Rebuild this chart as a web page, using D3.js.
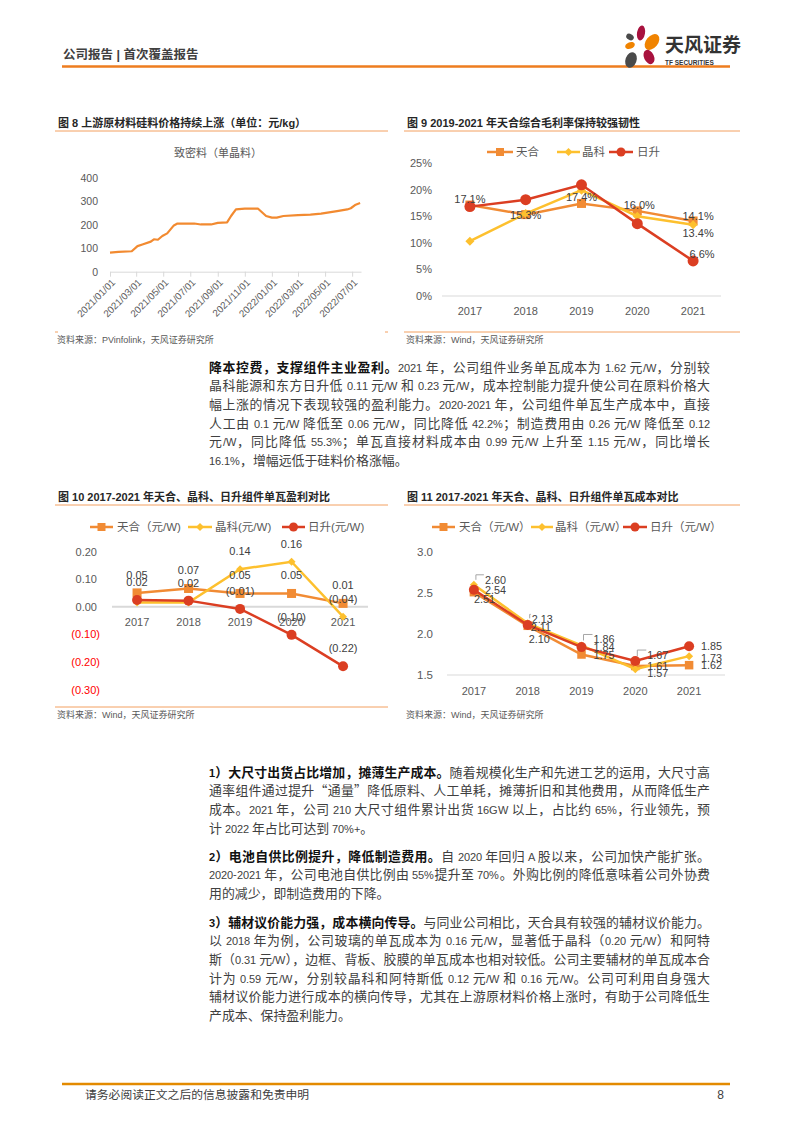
<!DOCTYPE html>
<html><head><meta charset="utf-8">
<script src="https://cdn.jsdelivr.net/npm/d3@7"></script>
<style>
@font-face{font-family:"LatN";src:local("Liberation Sans"),local("LiberationSans");size-adjust:88%;font-weight:400;unicode-range:U+0000-00FF;}
@font-face{font-family:"LatN";src:local("Liberation Sans Bold"),local("LiberationSans-Bold");size-adjust:88%;font-weight:700;unicode-range:U+0000-00FF;}
body{margin:0;background:#fff;}
#page{position:relative;width:793px;height:1122px;overflow:hidden;background:#fff;}
svg{position:absolute;left:0;top:0;}
.para{position:absolute;left:209px;width:501px;font-family:"LatN","Noto Sans CJK SC",sans-serif;font-size:12.9px;color:#404040;}
.line{height:18.7px;line-height:18.7px;text-align:justify;text-align-last:justify;}
.line.last{text-align-last:left;}
.para b{color:#111;font-weight:700;}
</style></head>
<body><div id="page"><svg id="svg" width="793" height="1122"></svg>
<div class="para" style="top:358.6px">
<div class="line"><b>降本控费，支撑组件主业盈利。</b>2021 年，公司组件业务单瓦成本为 1.62 元/W，分别较</div>
<div class="line">晶科能源和东方日升低 0.11 元/W 和 0.23 元/W，成本控制能力提升使公司在原料价格大</div>
<div class="line">幅上涨的情况下表现较强的盈利能力。2020-2021 年，公司组件单瓦生产成本中，直接</div>
<div class="line">人工由 0.1 元/W 降低至 0.06 元/W，同比降低 42.2%；制造费用由 0.26 元/W 降低至 0.12</div>
<div class="line">元/W，同比降低 55.3%；单瓦直接材料成本由 0.99 元/W 上升至 1.15 元/W，同比增长</div>
<div class="line last">16.1%，增幅远低于硅料价格涨幅。</div>
</div>
<div class="para" style="top:763.6px">
<div class="line"><b>1）大尺寸出货占比增加，摊薄生产成本。</b>随着规模化生产和先进工艺的运用，大尺寸高</div>
<div class="line">通率组件通过提升“通量”降低原料、人工单耗，摊薄折旧和其他费用，从而降低生产</div>
<div class="line">成本。2021 年，公司 210 大尺寸组件累计出货 16GW 以上，占比约 65%，行业领先，预</div>
<div class="line last">计 2022 年占比可达到 70%+。</div>
</div>
<div class="para" style="top:847.7px">
<div class="line"><b>2）电池自供比例提升，降低制造费用。</b>自 2020 年回归 A 股以来，公司加快产能扩张。</div>
<div class="line">2020-2021 年，公司电池自供比例由 55%提升至 70%。外购比例的降低意味着公司外协费</div>
<div class="line last">用的减少，即制造费用的下降。</div>
</div>
<div class="para" style="top:913.6px">
<div class="line"><b>3）辅材议价能力强，成本横向传导。</b>与同业公司相比，天合具有较强的辅材议价能力。</div>
<div class="line">以 2018 年为例，公司玻璃的单瓦成本为 0.16 元/W，显著低于晶科（0.20 元/W）和阿特</div>
<div class="line">斯（0.31 元/W），边框、背板、胶膜的单瓦成本也相对较低。公司主要辅材的单瓦成本合</div>
<div class="line">计为 0.59 元/W，分别较晶科和阿特斯低 0.12 元/W 和 0.16 元/W。公司可利用自身强大</div>
<div class="line">辅材议价能力进行成本的横向传导，尤其在上游原材料价格上涨时，有助于公司降低生</div>
<div class="line last">产成本、保持盈利能力。</div>
</div>
</div>
<script>
// ---------------- DATA ----------------
const years = ["2017", "2018", "2019", "2020", "2021"];

// Fig 8: 致密料（单晶料）price, 元/kg
const siDates = ["2021-01-01","2021-01-20","2021-02-19","2021-03-04","2021-03-15","2021-04-03","2021-04-10","2021-04-19","2021-04-29","2021-05-10","2021-05-25","2021-06-02","2021-07-10","2021-07-25","2021-08-17","2021-09-01","2021-09-22","2021-10-01","2021-10-12","2021-11-01","2021-12-01","2021-12-19","2022-01-01","2022-01-12","2022-01-27","2022-03-01","2022-03-29","2022-04-22","2022-05-28","2022-06-20","2022-06-28","2022-07-09","2022-07-19"];
const siPrice = [81,84,87,109,116,128,138,136,152,163,197,205,205,201,201,208,210,237,265,268,268,237,230,230,237,241,243,247,258,265,270,285,292];
const siTickLabels = ["2021/01/01","2021/03/01","2021/05/01","2021/07/01","2021/09/01","2021/11/01","2022/01/01","2022/03/01","2022/05/01","2022/07/01"];
const siYTicks = [0, 100, 200, 300, 400];

// Fig 9: gross margin
const gmTrina = [0.171, 0.153, 0.174, 0.160, 0.141];
const gmJinko = [0.103, 0.155, 0.199, 0.150, 0.134];
const gmRisen = [0.168, 0.181, 0.209, 0.136, 0.066];
const gmYTicks = [0, 0.05, 0.10, 0.15, 0.20, 0.25];

// Fig 10: profit per watt 元/W
const pfTrina = [0.05, 0.066, 0.048, 0.048, 0.012];
const pfJinko = [0.015, 0.015, 0.136, 0.163, -0.036];
const pfRisen = [0.024, 0.022, -0.008, -0.102, -0.216];
const pfYTicks = [0.2, 0.1, 0, -0.1, -0.2, -0.3];

// Fig 11: cost per watt 元/W
const ctTrina = [2.51, 2.10, 1.75, 1.61, 1.62];
const ctJinko = [2.60, 2.13, 1.86, 1.57, 1.73];
const ctRisen = [2.54, 2.11, 1.84, 1.67, 1.85];
const ctYTicks = [1.5, 2.0, 2.5, 3.0];

// ---------------- STYLE ----------------
const COL = {trina: "#F18B34", jinko: "#FDC02E", risen: "#DB3E22", si: "#F28A30", axis: "#d9d9d9", text: "#595959", label: "#404040"};
const FONT = "'Liberation Sans','Noto Sans CJK SC',sans-serif";
const svg = d3.select("#svg").style("font-family", FONT);

function txt(g, x, y, s, o = {}) {
  return g.append("text").attr("x", x).attr("y", y).attr("dominant-baseline", "central")
    .attr("text-anchor", o.anchor || "start").attr("font-size", o.size || 11)
    .attr("fill", o.fill || COL.text).attr("font-weight", o.weight || "normal").text(s);
}
function hline(g, x1, x2, y, color, w) {
  g.append("line").attr("x1", x1).attr("x2", x2).attr("y1", y).attr("y2", y).attr("stroke", color).attr("stroke-width", w);
}
function mark(g, type, x, y, s, color) {
  if (type === "square") g.append("rect").attr("x", x - s / 2).attr("y", y - s / 2).attr("width", s).attr("height", s).attr("fill", color);
  else if (type === "diamond") g.append("path").attr("d", `M${x},${y - s / 2}L${x + s / 2},${y}L${x},${y + s / 2}L${x - s / 2},${y}Z`).attr("fill", color);
  else g.append("circle").attr("cx", x).attr("cy", y).attr("r", s / 2).attr("fill", color);
}
function legend(g, items, y) {
  items.forEach(it => {
    hline(g, it.x0, it.x1, y, it.color, 2.5);
    mark(g, it.type, (it.x0 + it.x1) / 2, y, it.ms, it.color);
    txt(g, it.tx, y, it.name, {size: 11.5, fill: COL.text});
  });
}

// ---------------- HEADER / FOOTER ----------------
const hdr = svg.append("g");
txt(hdr, 63, 55, "公司报告 | 首次覆盖报告", {size: 12.5, weight: "bold", fill: "#404040"});
hline(hdr, 62, 730, 66.5, "#EE7D1F", 2.5);
const logo = hdr.append("g");
[[630,37,4,3,30,"#4a4a4a"],[641,33,4,7.5,10,"#A8123E"],[652,42,9,6,-50,"#F08300"],[630,45.5,5,3.3,-20,"#F08300"],[631,60,5.5,8,20,"#4a4a4a"],[649,57,5,7.5,-25,"#A8123E"]]
  .forEach(p => logo.append("ellipse").attr("cx", p[0]).attr("cy", p[1]).attr("rx", p[2]).attr("ry", p[3])
    .attr("transform", `rotate(${p[4]},${p[0]},${p[1]})`).attr("fill", p[5]));
txt(logo, 665, 45, "天风证券", {size: 19, weight: "bold", fill: "#333"});
txt(logo, 665, 62, "TF SECURITIES", {size: 6.5, weight: "bold", fill: "#333"});

const ftr = svg.append("g");
hline(ftr, 62, 730, 1084, "#E38A00", 2.5);
txt(ftr, 85, 1095, "请务必阅读正文之后的信息披露和免责申明", {size: 11.8, fill: "#404040"});
txt(ftr, 720.5, 1095, "8", {size: 12, fill: "#404040", anchor: "middle"});

// ---------------- chart frames ----------------
function frame(x0, x1, ty, title, ly, sy, src, bottomLine) {
  const g = svg.append("g");
  txt(g, x0 + 3, ty, title, {size: 11, weight: "bold", fill: "#262626"});
  hline(g, x0, x1, ly, "#F3A060", 1);
  if (bottomLine === "full") hline(g, x0, x1, sy - 8, "#F3A060", 1);
  else if (bottomLine === "ends") { hline(g, x0, x0 + 3, sy - 8, "#F3A060", 1); hline(g, x1 - 3, x1, sy - 8, "#F3A060", 1); }
  txt(g, x0 + 2, sy, src, {size: 9, fill: "#595959"});
}
frame(55, 388, 123, "图 8 上游原材料硅料价格持续上涨（单位：元/kg）", 131, 340, "资料来源：PVinfolink，天风证券研究所", "ends");
frame(404, 740, 123, "图 9 2019-2021 年天合综合毛利率保持较强韧性", 131, 340, "资料来源：Wind，天风证券研究所", "full");
frame(55, 388, 497, "图 10 2017-2021 年天合、晶科、日升组件单瓦盈利对比", 505, 715, "资料来源：Wind，天风证券研究所", "full");
frame(404, 740, 497, "图 11 2017-2021 年天合、晶科、日升组件单瓦成本对比", 505, 715, "资料来源：Wind，天风证券研究所", "none");

// ---------------- FIG 8 ----------------
(function () {
  const g = svg.append("g");
  const parse = d3.timeParse("%Y-%m-%d"), parseS = d3.timeParse("%Y/%m/%d");
  const x = d3.scaleTime().domain([parse("2021-01-01"), parse("2022-07-21")]).range([110, 361]);
  const y = d3.scaleLinear().domain([0, 400]).range([271.7, 177.7]);
  txt(g, 218, 153, "致密料（单晶料）", {size: 11, anchor: "middle", fill: COL.text});
  siYTicks.forEach(v => txt(g, 98, y(v), v, {size: 10.5, anchor: "end", fill: COL.text}));
  const ax = d3.axisBottom(x).tickValues(siTickLabels.map(parseS)).tickFormat((d, i) => siTickLabels[i]).tickSize(5).tickSizeOuter(0);
  const axg = g.append("g").attr("transform", `translate(0,${y(0)})`).call(ax);
  axg.select(".domain").attr("stroke", COL.axis);
  axg.selectAll(".tick line").attr("stroke", COL.axis);
  axg.selectAll(".tick text").attr("fill", COL.text).attr("font-size", 9.8).attr("font-family", FONT)
    .attr("text-anchor", "end").attr("x", 0).attr("y", 0).attr("dy", "0.35em")
    .attr("transform", "translate(3,9) rotate(-45)");
  const pts = siDates.map((d, i) => ({d: parse(d), v: siPrice[i]}));
  g.append("path").datum(pts).attr("fill", "none").attr("stroke", COL.si).attr("stroke-width", 2.2)
    .attr("stroke-linejoin", "round").attr("d", d3.line().x(p => x(p.d)).y(p => y(p.v)));
})();

// ---------------- FIG 9 ----------------
(function () {
  const g = svg.append("g");
  const x = d3.scalePoint().domain(years).range([442, 721]).padding(0.5);
  const y = d3.scaleLinear().domain([0, 0.25]).range([296, 163]);
  gmYTicks.forEach(v => txt(g, 432, y(v), d3.format(".0%")(v), {size: 11, anchor: "end"}));
  hline(g, 442, 721, y(0), COL.axis, 1);
  years.forEach(yr => txt(g, x(yr), 311, yr, {size: 11, anchor: "middle"}));
  const series = [
    {name: "天合", vals: gmTrina, color: COL.trina, type: "square", ms: 9, lx0: 487, lx1: 513, tx: 516},
    {name: "晶科", vals: gmJinko, color: COL.jinko, type: "diamond", ms: 9, lx0: 557, lx1: 580, tx: 582},
    {name: "日升", vals: gmRisen, color: COL.risen, type: "circle", ms: 11, lx0: 609, lx1: 633, tx: 637}
  ];
  legend(g, series.map(s => ({x0: s.lx0, x1: s.lx1, tx: s.tx, color: s.color, type: s.type, ms: s.type === "circle" ? 9 : 8, name: s.name})), 152);
  const line = d3.line().x((d, i) => x(years[i])).y(d => y(d));
  series.forEach(s => {
    g.append("path").datum(s.vals).attr("fill", "none").attr("stroke", s.color).attr("stroke-width", 2.5).attr("d", line);
    s.vals.forEach((v, i) => mark(g, s.type, x(years[i]), y(v), s.ms, s.color));
  });
  const labs = [[0,0,0,-6],[0,1,0,0],[0,2,0,-6],[0,3,2,-6],[0,4,5,-5],[1,4,5,8],[2,4,9,-7]];
  labs.forEach(([si, i, dx, dy]) => {
    const v = series[si].vals[i];
    txt(g, x(years[i]) + dx, y(v) + dy, d3.format(".1%")(v), {size: 11, anchor: "middle", fill: COL.label});
  });
})();

// ---------------- FIG 10 ----------------
(function () {
  const g = svg.append("g");
  const x = d3.scalePoint().domain(years).range([111.3, 368.8]).padding(0.5);
  const y = d3.scaleLinear().domain([-0.3, 0.2]).range([689.5, 551.5]);
  const fmt = d3.format("(.2f");
  pfYTicks.forEach(v => txt(g, v < 0 ? 100 : 97, y(v), fmt(v), {size: 11, anchor: "end", fill: v < 0 ? "#FF0000" : COL.text}));
  hline(g, 112, 368, y(0), "#d9d9d9", 2);
  years.forEach(yr => txt(g, x(yr), 622, yr, {size: 11, anchor: "middle"}));
  const series = [
    {name: "天合（元/W)", vals: pfTrina, color: COL.trina, type: "square", ms: 9, lx0: 90, lx1: 113, tx: 117, hide: []},
    {name: "晶科(元/W)", vals: pfJinko, color: COL.jinko, type: "diamond", ms: 8, lx0: 188, lx1: 212, tx: 215, hide: [0, 1]},
    {name: "日升(元/W)", vals: pfRisen, color: COL.risen, type: "circle", ms: 10, lx0: 282, lx1: 305, tx: 308, hide: []}
  ];
  legend(g, series.map(s => ({x0: s.lx0, x1: s.lx1, tx: s.tx, color: s.color, type: s.type, ms: s.type === "circle" ? 9 : 8, name: s.name})), 527);
  const line = d3.line().x((d, i) => x(years[i])).y(d => y(d));
  series.forEach(s => {
    g.append("path").datum(s.vals).attr("fill", "none").attr("stroke", s.color).attr("stroke-width", 2.5).attr("d", line);
    s.vals.forEach((v, i) => mark(g, s.type, x(years[i]), y(v), s.ms, s.color));
  });
  series.forEach(s => s.vals.forEach((v, i) => {
    if (s.hide.includes(i)) return;
    txt(g, x(years[i]), y(v) - 18, fmt(v), {size: 11, anchor: "middle", fill: COL.label});
  }));
})();

// ---------------- FIG 11 ----------------
(function () {
  const g = svg.append("g");
  const x = d3.scalePoint().domain(years).range([447, 716]).padding(0.5);
  const y = d3.scaleLinear().domain([1.5, 3.0]).range([675, 552]);
  ctYTicks.forEach(v => txt(g, 433, y(v), d3.format(".1f")(v), {size: 11.5, anchor: "end"}));
  hline(g, 447, 725, y(1.5), COL.axis, 1);
  years.forEach(yr => txt(g, x(yr), 691, yr, {size: 11, anchor: "middle"}));
  const series = [
    {name: "天合（元/W）", vals: ctTrina, color: COL.trina, type: "square", ms: 8.5, lx0: 432, lx1: 455, tx: 459,
      off: [[0, 7], [1, 13], [12, 0], [12, 0], [12, 0]]},
    {name: "晶科（元/W）", vals: ctJinko, color: COL.jinko, type: "diamond", ms: 8, lx0: 531, lx1: 553, tx: 555,
      off: [[11, -5], [4, -4], [12, -6], [12, 4], [12, 2]], lead: [0, 1, 2]},
    {name: "日升（元/W）", vals: ctRisen, color: COL.risen, type: "circle", ms: 10, lx0: 623, lx1: 647, tx: 650,
      off: [[11, 0], [3, 2], [12, 0], [12, -6], [12, 0]], lead: [3]}
  ];
  legend(g, series.map(s => ({x0: s.lx0, x1: s.lx1, tx: s.tx, color: s.color, type: s.type, ms: s.type === "circle" ? 9 : 8, name: s.name})), 527);
  const line = d3.line().x((d, i) => x(years[i])).y(d => y(d));
  series.forEach(s => {
    g.append("path").datum(s.vals).attr("fill", "none").attr("stroke", s.color).attr("stroke-width", 2.5).attr("d", line);
    s.vals.forEach((v, i) => mark(g, s.type, x(years[i]), y(v), s.ms, s.color));
  });
  series.forEach(s => s.vals.forEach((v, i) => {
    const px = x(years[i]), py = y(v), lx = px + s.off[i][0], ly = py + s.off[i][1];
    if (s.lead && s.lead.includes(i)) {
      g.append("path").attr("d", `M${px + 2},${py - 5}V${ly - 5}H${lx - 1}`).attr("fill", "none").attr("stroke", "#a6a6a6").attr("stroke-width", 1);
    }
    txt(g, lx, ly, d3.format(".2f")(v), {size: 10.8, fill: COL.label});
  }));
})();
</script>
</body></html>
